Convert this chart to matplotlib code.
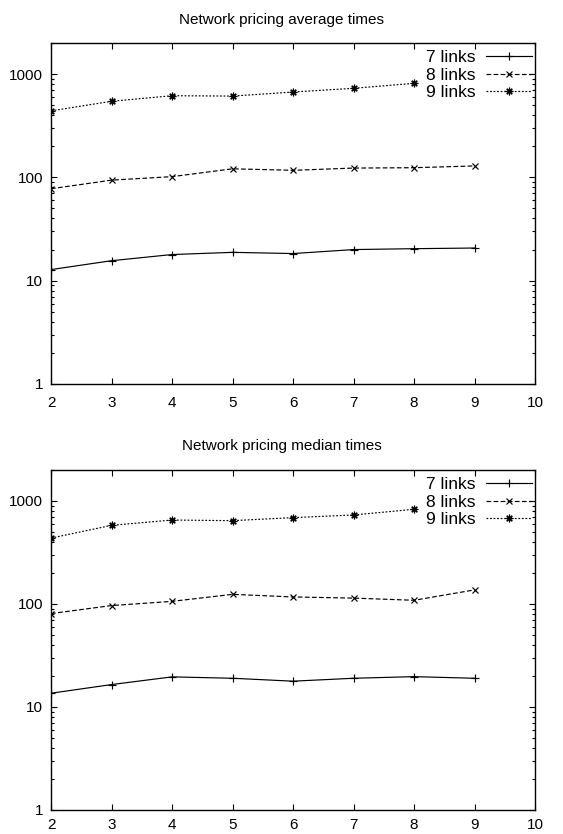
import matplotlib.pyplot as plt
import matplotlib.ticker as ticker
import numpy as np

plt.rcParams["font.family"] = ["Liberation Sans", "DejaVu Sans"]

x7 = [2, 3, 4, 5, 6, 7, 8, 9]
x8 = [2, 3, 4, 5, 6, 7, 8, 9]
x9 = [2, 3, 4, 5, 6, 7, 8]

avg7 = [12.8, 15.6, 17.9, 18.8, 18.3, 20.0, 20.4, 20.7]
avg8 = [77.6, 94, 101.6, 121, 117, 123, 124, 129]
avg9 = [440, 545, 617, 612, 670, 728, 813]

med7 = [13.6, 16.5, 19.6, 19.0, 17.8, 19.0, 19.7, 19.0]
med8 = [80.7, 96.5, 106, 124, 117, 114, 108.6, 137]
med9 = [436, 580, 653, 644, 689, 731, 830]

titles = ["Network pricing average times", "Network pricing median times"]
labels = ["7 links", "8 links", "9 links"]
xticks = [2, 3, 4, 5, 6, 7, 8, 9, 10]
yticks = [1, 10, 100, 1000]

fig = plt.figure(figsize=(5.63, 8.34), dpi=100)
axes = [fig.add_axes([0.0906, 0.5396, 0.8597, 0.4089]),
        fig.add_axes([0.0906, 0.0288, 0.8597, 0.4077])]
title_y = [1 - 20 / 834, 1 - 446 / 834]
xpads = [8.5, 5.5]

data = [(avg7, avg8, avg9), (med7, med8, med9)]

for ax, (d7, d8, d9), title, ty, xpad in zip(axes, data, titles, title_y, xpads):
    ax.plot(x7, d7, color="black", lw=0.85, ls="-", marker="+", ms=6,
            mew=0.85, label=labels[0])
    ax.plot(x8, d8, color="black", lw=0.85, ls=(0, (4, 2)), marker="x", ms=4.5,
            mew=0.85, label=labels[1])
    ax.plot(x9, d9, color="black", lw=0.85, ls=(0, (1.5, 1.5)), marker=(8, 2, 0),
            ms=5.5, mew=0.85, label=labels[2])

    ax.set_yscale("log")
    ax.set_xlim(2, 10)
    ax.set_ylim(1, 2000)
    ax.set_xticks(xticks)
    ax.set_yticks(yticks)
    ax.yaxis.set_major_formatter(ticker.FuncFormatter(lambda v, p: f"{v:g}"))
    ax.yaxis.set_minor_locator(ticker.LogLocator(base=10, subs=np.arange(2, 10)))
    ax.yaxis.set_minor_formatter(ticker.NullFormatter())
    ax.tick_params(which="both", direction="in", top=True, right=True,
                   labelsize=11, color="black")
    ax.tick_params(which="major", length=4.5, width=0.8)
    ax.tick_params(axis="x", which="major", pad=xpad)
    ax.tick_params(axis="y", which="major", pad=5.5)
    ax.tick_params(which="minor", length=2.2, width=0.8)
    for s in ax.spines.values():
        s.set_linewidth(1.0)

    ax.legend(loc="upper right", bbox_to_anchor=(0.994, 0.979), frameon=False,
              markerfirst=False, fontsize=12.5, handlelength=2.65,
              handletextpad=0.63, labelspacing=0.13, borderpad=0,
              borderaxespad=0, numpoints=1)

    fig.text(0.5, ty, title, ha="center", va="center", fontsize=11)

fig.savefig("out.png", dpi=100)
